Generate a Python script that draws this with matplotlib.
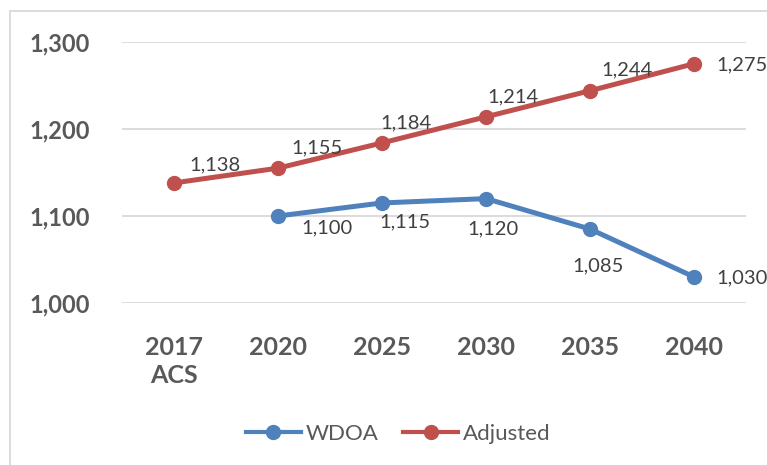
import matplotlib
matplotlib.use("Agg")
import matplotlib.pyplot as plt
from matplotlib.patches import Rectangle

categories = ["2017\nACS", "2020", "2025", "2030", "2035", "2040"]
wdoa = [None, 1100, 1115, 1120, 1085, 1030]
adjusted = [1138, 1155, 1184, 1214, 1244, 1275]
y_ticks = [1000, 1100, 1200, 1300]

# label offsets in pixels (dx, dy)
adj_offsets = [(41, 18), (39, 20), (24, 20), (27, 20), (37, 21), (48, -1)]
wdoa_offsets = [None, (49, -12), (23, -19), (7, -30), (8, -37), (48, -1)]

blue = "#4F81BD"
red = "#C0504D"
tick_color = "#595959"
label_color = "#404040"

plt.rcParams["font.family"] = ["Lato", "DejaVu Sans"]

fig = plt.figure(figsize=(7.67, 4.65), dpi=100)
ax = fig.add_axes([122 / 767, 1 - 303 / 465, 624 / 767, 261 / 465])

x = list(range(len(categories)))
wx = [i for i, v in zip(x, wdoa) if v is not None]
wy = [v for v in wdoa if v is not None]

ax.plot(wx, wy, color=blue, lw=3.6, marker="o", ms=10, label="WDOA", zorder=3)
ax.plot(x, adjusted, color=red, lw=3.6, marker="o", ms=10, label="Adjusted", zorder=3)

for i, v in enumerate(adjusted):
    ax.annotate(f"{v:,}", (i, v), xytext=adj_offsets[i], textcoords="offset pixels",
                ha="center", va="center", fontsize=14.5, color=label_color)
for i, v in enumerate(wdoa):
    if v is None:
        continue
    ax.annotate(f"{v:,}", (i, v), xytext=wdoa_offsets[i], textcoords="offset pixels",
                ha="center", va="center", fontsize=14.5, color=label_color)

ax.set_xlim(-0.5, len(categories) - 0.5)
ax.set_ylim(1000, 1300)
ax.set_yticks(y_ticks)
ax.set_yticklabels([f"{t:,}" for t in y_ticks])
ax.set_xticks(x)
ax.set_xticklabels(categories)
ax.grid(axis="y", color="#D9D9D9", lw=1.3)
ax.set_axisbelow(True)
for s in ax.spines.values():
    s.set_visible(False)
ax.tick_params(length=0)
ax.tick_params(axis="y", pad=23, labelsize=17, labelcolor=tick_color)
ax.tick_params(axis="x", pad=24, labelsize=18, labelcolor=tick_color)
for lbl in ax.get_xticklabels() + ax.get_yticklabels():
    lbl.set_fontweight("bold")
    lbl.set_linespacing(1.25)

leg = ax.legend(loc="center", bbox_to_anchor=(398 / 767, 1 - 434 / 465), bbox_transform=fig.transFigure,
                ncol=2, frameon=False, fontsize=16, labelcolor=tick_color, handlelength=2.5,
                handletextpad=0.2, columnspacing=1.1)
for h in leg.get_lines():
    h.set_linewidth(3)

fig.patches.append(Rectangle((10 / 767, -0.1), 1.2, 1 - 11 / 465 + 0.1, transform=fig.transFigure,
                             fill=False, edgecolor="#D9D9D9", lw=1.3))

fig.savefig("out.png", dpi=100)
